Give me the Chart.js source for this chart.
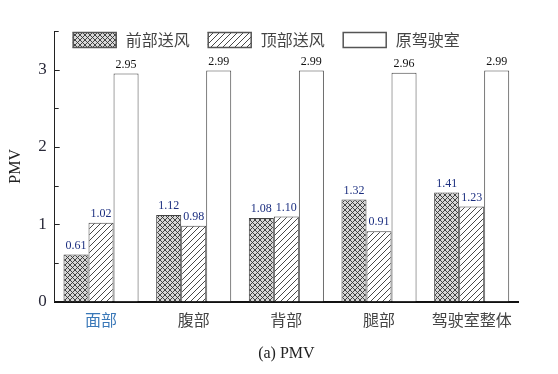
<!DOCTYPE html>
<html>
<head>
<meta charset="utf-8">
<script src="https://cdn.jsdelivr.net/npm/chart.js@4"></script>
<style>
  html, body { margin: 0; padding: 0; background: #fff; }
  #wrap { width: 558px; height: 374px; }
</style>
</head>
<body>
<div id="wrap"><canvas id="pmvChart" width="558" height="374"></canvas></div>
<script>
// PMV comparison data
const categories = ['面部', '腹部', '背部', '腿部', '驾驶室整体'];
const frontValues = [0.61, 1.12, 1.08, 1.32, 1.41];
const topValues = [1.02, 0.98, 1.10, 0.91, 1.23];
const origValues = [2.95, 2.99, 2.99, 2.96, 2.99];
const seriesNames = ['前部送风', '顶部送风', '原驾驶室'];
const yTickLabels = ['0', '1', '2', '3'];

const serif = '"Liberation Serif", "DejaVu Serif", serif';
const cjk = '"Noto Sans CJK SC", sans-serif';

function makePattern(kind) {
    const s = kind === 'cross' ? 5 : 6;
    const c = document.createElement('canvas');
    c.width = s; c.height = s;
    const g = c.getContext('2d');
    g.fillStyle = kind === 'cross' ? '#d8d8d8' : '#ffffff';
    g.fillRect(0, 0, s, s);
    g.strokeStyle = '#333';
    g.lineWidth = 0.9;
    g.beginPath();
    // "/" direction
    g.moveTo(0, s); g.lineTo(s, 0);
    g.moveTo(-1, 1); g.lineTo(1, -1);
    g.moveTo(s - 1, s + 1); g.lineTo(s + 1, s - 1);
    if (kind === 'cross') {
        // "\" direction
        g.moveTo(0, 0); g.lineTo(s, s);
        g.moveTo(-1, s - 1); g.lineTo(1, s + 1);
        g.moveTo(s - 1, -1); g.lineTo(s + 1, 1);
    }
    g.stroke();
    return document.getElementById('pmvChart').getContext('2d').createPattern(c, 'repeat');
}

const crossFill = makePattern('cross');
const hatchFill = makePattern('hatch');

// value labels above bars
const valueLabels = {
    id: 'valueLabels',
    afterDatasetsDraw(chart) {
        const ctx = chart.ctx;
        ctx.save();
        ctx.font = '12px ' + serif;
        ctx.textAlign = 'center';
        ctx.textBaseline = 'bottom';
        chart.data.datasets.forEach((ds, i) => {
            const meta = chart.getDatasetMeta(i);
            ctx.fillStyle = i < 2 ? '#1c2f80' : '#111111';
            meta.data.forEach((bar, j) => {
                ctx.fillText(ds.data[j].toFixed(2), bar.x, bar.y - 3);
            });
        });
        ctx.restore();
    }
};

// inward ticks on the y axis
const innerTicks = {
    id: 'innerTicks',
    afterDraw(chart) {
        const ctx = chart.ctx;
        const y = chart.scales.y;
        const left = chart.chartArea.left;
        ctx.save();
        ctx.strokeStyle = '#222';
        ctx.lineWidth = 1;
        for (let v = 0.5; v <= 3.5; v += 0.5) {
            const py = Math.round(y.getPixelForValue(v)) + 0.5;
            const len = Number.isInteger(v) ? 5 : 4;
            ctx.beginPath();
            ctx.moveTo(left, py);
            ctx.lineTo(left + len, py);
            ctx.stroke();
        }
        ctx.restore();
    }
};

// legend drawn inside the plot area
const innerLegend = {
    id: 'innerLegend',
    afterDraw(chart) {
        const ctx = chart.ctx;
        const area = chart.chartArea;
        let x = area.left + 18;
        const top = area.top + 1;
        ctx.save();
        ctx.font = '16px ' + cjk;
        ctx.textBaseline = 'middle';
        chart.data.datasets.forEach((ds) => {
            ctx.fillStyle = ds.backgroundColor;
            ctx.fillRect(x, top, 44, 16);
            ctx.strokeStyle = '#555';
            ctx.lineWidth = 1.5;
            ctx.strokeRect(x + 0.5, top + 0.5, 43, 15);
            ctx.fillStyle = '#444';
            ctx.fillText(ds.label, x + 53, top + 8);
            x += 53 + ctx.measureText(ds.label).width + 18;
        });
        ctx.restore();
    }
};

new Chart('pmvChart', {
    type: 'bar',
    data: {
        labels: categories,
        datasets: [{
            label: seriesNames[0],
            data: frontValues,
            backgroundColor: crossFill,
            borderColor: '#444',
            borderWidth: 1
        }, {
            label: seriesNames[1],
            data: topValues,
            backgroundColor: hatchFill,
            borderColor: '#444',
            borderWidth: 1
        }, {
            label: seriesNames[2],
            data: origValues,
            backgroundColor: '#ffffff',
            borderColor: '#444',
            borderWidth: 1
        }]
    },
    options: {
        responsive: false,
        animation: false,
        layout: {
            padding: { top: 31, right: 40, left: 6, bottom: 11 }
        },
        datasets: {
            bar: {
                categoryPercentage: 0.81,
                barPercentage: 1.0
            }
        },
        scales: {
            x: {
                grid: { display: false, drawTicks: false },
                border: { display: true, color: '#111', width: 2 },
                ticks: {
                    padding: 9,
                    font: { family: cjk, size: 16 },
                    color: (c) => c.index === 0 ? '#3a78b8' : '#444'
                },
                title: {
                    display: true,
                    text: '(a) PMV',
                    font: { family: serif, size: 16 },
                    color: '#222',
                    padding: { top: 5, bottom: 0 }
                }
            },
            y: {
                min: 0,
                max: 3.5,
                grid: { display: false, drawTicks: false },
                border: { display: true, color: '#222', width: 1 },
                ticks: {
                    stepSize: 0.5,
                    padding: 8,
                    autoSkip: false,
                    font: { family: serif, size: 17 },
                    color: '#2a2a3a',
                    callback: (v) => Number.isInteger(v) && yTickLabels.includes(String(v)) ? String(v) : ''
                },
                title: {
                    display: true,
                    text: 'PMV',
                    font: { family: serif, size: 16 },
                    color: '#222',
                    padding: { top: 0, bottom: 5 }
                }
            }
        },
        plugins: {
            legend: { display: false },
            tooltip: { enabled: false }
        }
    },
    plugins: [valueLabels, innerTicks, innerLegend]
});
</script>
</body>
</html>
